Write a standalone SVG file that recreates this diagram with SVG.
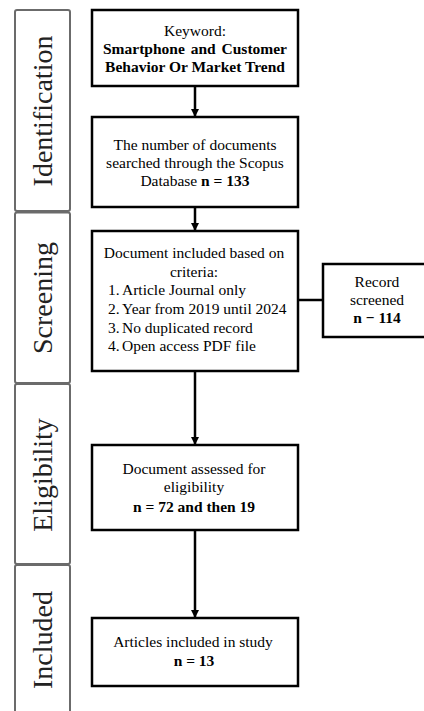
<svg xmlns="http://www.w3.org/2000/svg" width="424" height="711" viewBox="0 0 424 711">
<style>
.bg{fill:#ffffff}
.phase{fill:#ffffff;stroke:#6b6b6b;stroke-width:2}
.plabel{font-family:"Liberation Serif","Times New Roman",serif;font-size:28px;fill:#222;text-anchor:middle}
.box{fill:#ffffff;stroke:#000;stroke-width:2.5}
.t{font-family:"Liberation Serif","Times New Roman",serif;font-size:15.5px;fill:#000;text-anchor:middle}
.tl{font-family:"Liberation Serif","Times New Roman",serif;font-size:15.5px;fill:#000}
.b{font-weight:bold}
.conn{stroke:#000;stroke-width:2.5;fill:none}
</style>
<defs>
<marker id="ah" viewBox="0 0 10 10" refX="10" refY="5" markerWidth="3.2" markerHeight="3.2" markerUnits="strokeWidth" orient="auto">
<path d="M0,0 L10,5 L0,10 z" fill="#000"/>
</marker>
</defs>
<rect class="bg" x="0" y="0" width="424" height="711"/>
<g id="phases">
<g id="phase-identification">
<rect class="phase" x="15" y="10" width="55" height="201" rx="2"/>
<text class="plabel" transform="translate(52,111) rotate(-90)">Identification</text>
</g>
<g id="phase-screening">
<rect class="phase" x="15" y="212.5" width="55" height="170.5" rx="2"/>
<text class="plabel" transform="translate(52,298) rotate(-90)">Screening</text>
</g>
<g id="phase-eligibility">
<rect class="phase" x="15" y="384" width="55" height="180" rx="2"/>
<text class="plabel" transform="translate(52,475) rotate(-90)">Eligibility</text>
</g>
<g id="phase-included">
<rect class="phase" x="15" y="565" width="55" height="160" rx="2"/>
<text class="plabel" transform="translate(52,640) rotate(-90)">Included</text>
</g>
</g>
<g id="connectors">
<line class="conn" x1="195" y1="86" x2="195" y2="117" marker-end="url(#ah)"/>
<line class="conn" x1="195" y1="207" x2="195" y2="231" marker-end="url(#ah)"/>
<line class="conn" x1="195" y1="371" x2="195" y2="445" marker-end="url(#ah)"/>
<line class="conn" x1="195" y1="530" x2="195" y2="618" marker-end="url(#ah)"/>
<line class="conn" x1="298" y1="300" x2="323" y2="300"/>
</g>
<g id="node-keyword">
<rect class="box" x="92" y="10" width="206" height="76"/>
<text class="t" x="195" y="35.5">Keyword:</text>
<text class="t b" x="195" y="53.5" word-spacing="2">Smartphone and Customer</text>
<text class="t b" x="195" y="71.5">Behavior Or Market Trend</text>
</g>
<g id="node-scopus">
<rect class="box" x="92" y="117" width="206" height="90"/>
<text class="t" x="195" y="150">The number of documents</text>
<text class="t" x="195" y="168">searched through the Scopus</text>
<text class="t" x="195" y="186">Database <tspan class="b">n = 133</tspan></text>
</g>
<g id="node-criteria">
<rect class="box" x="92" y="231" width="206" height="140"/>
<text class="t" x="194" y="258">Document included based on</text>
<text class="t" x="194" y="276.5">criteria:</text>
<text class="tl" x="108" y="295">1.</text><text class="tl" x="122" y="295">Article Journal only</text>
<text class="tl" x="108" y="314">2.</text><text class="tl" x="122" y="314">Year from 2019 until 2024</text>
<text class="tl" x="108" y="332.5">3.</text><text class="tl" x="122" y="332.5">No duplicated record</text>
<text class="tl" x="108" y="351">4.</text><text class="tl" x="122" y="351">Open access PDF file</text>
</g>
<g id="node-screened">
<rect class="box" x="323" y="264" width="104" height="73"/>
<text class="t" x="377" y="287">Record</text>
<text class="t" x="377" y="305">screened</text>
<text class="t b" x="377" y="323">n − 114</text>
</g>
<g id="node-eligibility">
<rect class="box" x="92" y="445" width="206" height="85"/>
<text class="t" x="194" y="474">Document assessed for</text>
<text class="t" x="194" y="492">eligibility</text>
<text class="t b" x="194" y="511.5">n = 72 and then 19</text>
</g>
<g id="node-included">
<rect class="box" x="92" y="618" width="206" height="68"/>
<text class="t" x="193" y="647">Articles included in study</text>
<text class="t b" x="194" y="665.5">n = 13</text>
</g>
</svg>
